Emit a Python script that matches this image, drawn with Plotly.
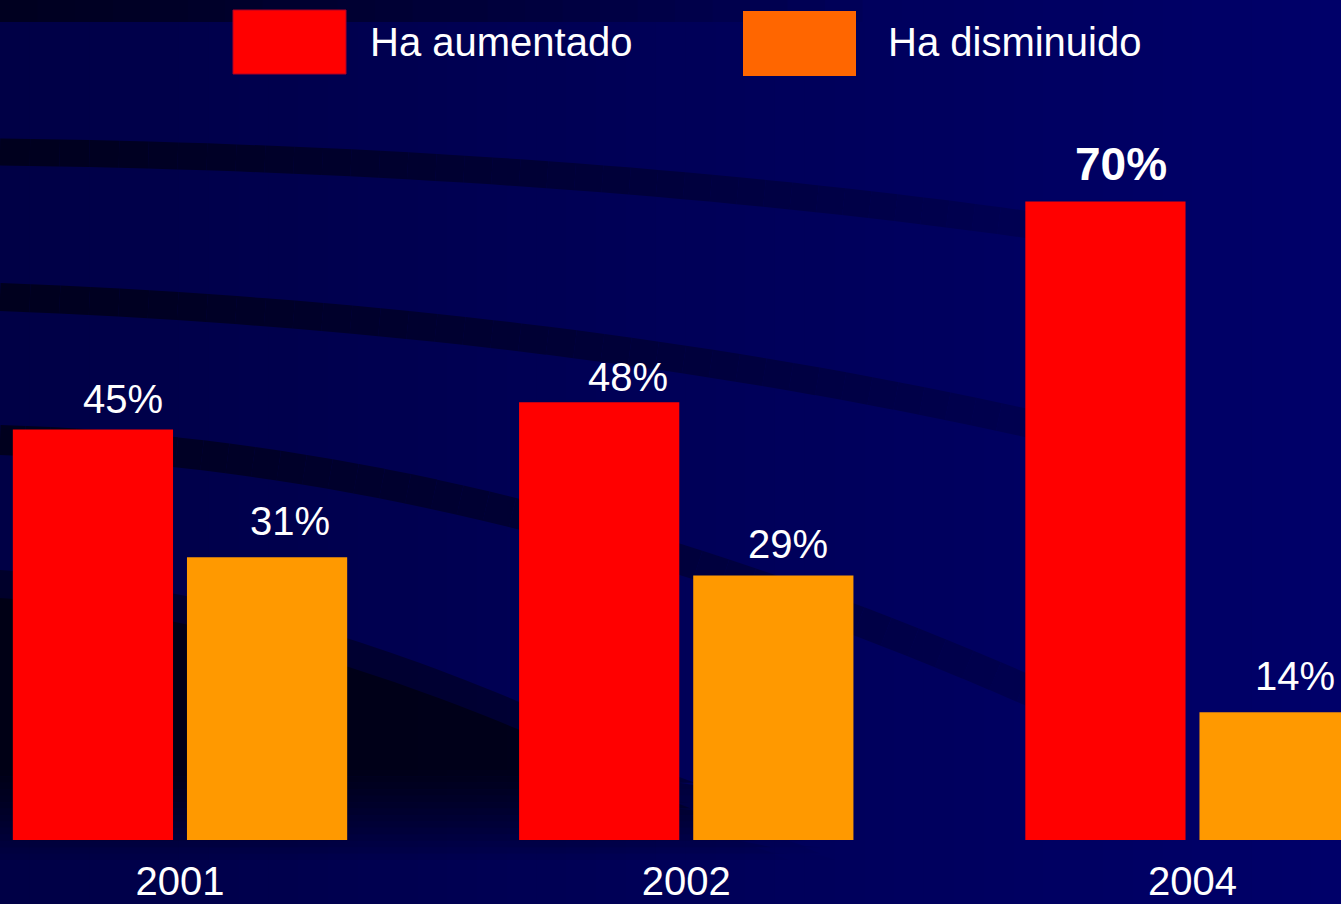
import plotly.graph_objects as go

# ---- data -------------------------------------------------------------
years = ["2001", "2002", "2004"]
aumentado = [45, 48, 70]
disminuido = [31, 29, 14]
series_names = ["Ha aumentado", "Ha disminuido"]

# ---- page geometry ----------------------------------------------------
W, H = 1341, 904
MB = 64                 # bottom margin holding the year labels
PH = H - MB             # plot-area height
PX_PER_PCT = 9.12       # vertical scale of the bars
X0_PX, UNIT_PX = 180.0, 506.25   # pixel of first group centre, pixels per group

# pixel nudges of the value labels, per series and per year
LABEL_DX = [[30, 29, 16], [23, 15, 15]]
LABEL_DY = [[7, 1, 10], [12, 8, 12]]

FONT = "Liberation Sans, Arial, sans-serif"
RED = "#FF0000"
ORANGE_BAR = "#FF9900"
ORANGE_KEY = "#FF6600"
BARGAP, BARGROUPGAP = 0.312, 0.08


def px(x):
    return x / W


def py(y):
    return (PH - y) / PH


def bg_blue(x):
    """Blue channel of the slide background gradient at pixel column x."""
    return 70 + 35 * min(max(x, 0), W) / W


def qpoint(p0, p1, p2, t):
    u = 1 - t
    return (u * u * p0[0] + 2 * u * t * p1[0] + t * t * p2[0],
            u * u * p0[1] + 2 * u * t * p1[1] + t * t * p2[1])


shapes = []

# background gradient, dark navy on the left to brighter navy on the right
NSTRIP = 45
for i in range(NSTRIP):
    xa, xb = W * i / NSTRIP, W * (i + 1) / NSTRIP
    b = bg_blue((xa + xb) / 2)
    shapes.append(dict(type="rect", xref="paper", yref="paper",
                       x0=px(xa), x1=px(xb) + 0.001, y0=py(H + 5), y1=py(-5),
                       fillcolor=f"rgb(0,0,{b:.0f})", line_width=0, layer="below"))

# dark strip along the top edge
NTOP = 24
for i in range(NTOP):
    xa, xb = 900 * i / NTOP, 900 * (i + 1) / NTOP
    a = 0.55 * (1 - i / (NTOP - 1)) ** 0.8
    b = bg_blue((xa + xb) / 2) * (1 - a)
    shapes.append(dict(type="rect", xref="paper", yref="paper",
                       x0=px(xa), x1=px(xb) + 0.001, y0=py(22), y1=py(-2),
                       fillcolor=f"rgb(0,0,{b:.0f})", line_width=0, layer="below"))


def arc_band(p0, p1, p2, width, a0, a1, n=40):
    pts = [qpoint(p0, p1, p2, i / n) for i in range(n + 1)]
    for i in range(n):
        (xa, ya), (xb, yb) = pts[i], pts[i + 1]
        a = a0 + (a1 - a0) * i / (n - 1)
        b = bg_blue((xa + xb) / 2) * (1 - a)
        shapes.append(dict(type="line", xref="paper", yref="paper",
                           x0=px(xa), y0=py(ya), x1=px(xb), y1=py(yb),
                           line=dict(color=f"rgb(0,0,{b:.0f})", width=width),
                           layer="below"))


# sweeping arcs of the slide template
arc_band((0, 152), (600, 160), (1100, 235), 27, 0.58, 0.12)
arc_band((0, 297), (600, 320), (1100, 440), 28, 0.58, 0.15)
arc_band((0, 440), (500, 455), (1050, 700), 30, 0.58, 0.18)


def dark_region(p0, p1, p2, alpha, fade_start=770, fade_end=860, nslice=14):
    """Area below a curve, darkened, fading out towards the bottom edge."""
    curve = [qpoint(p0, p1, p2, i / 60) for i in range(61)]
    top = min(p[1] for p in curve)
    edges = [top - 1, fade_start] + [
        fade_start + (fade_end - fade_start) * (k + 1) / nslice for k in range(nslice)]
    for k in range(len(edges) - 1):
        ya, yb = edges[k], edges[k + 1]
        f = 1.0 if k == 0 else 1 - (k - 0.5) / nslice
        pts = [(x, min(max(y, ya), yb)) for x, y in curve]
        xend = max(x for x, y in curve)
        path = "M " + " L ".join(f"{px(x):.5f},{py(y):.5f}" for x, y in pts)
        path += f" L {px(xend):.5f},{py(yb):.5f} L {px(0):.5f},{py(yb):.5f} Z"
        shapes.append(dict(type="path", xref="paper", yref="paper", path=path,
                           fillcolor=f"rgba(0,0,0,{alpha * f:.3f})",
                           line_width=0, layer="below"))


dark_region((0, 570), (420, 600), (900, 904), 0.38)
dark_region((0, 598), (420, 628), (920, 940), 0.5)

# legend keys
shapes.append(dict(type="rect", xref="paper", yref="paper",
                   x0=px(233), x1=px(346), y0=py(74), y1=py(10),
                   fillcolor=RED, line=dict(color="rgb(170,0,40)", width=1)))
shapes.append(dict(type="rect", xref="paper", yref="paper",
                   x0=px(743), x1=px(856), y0=py(76), y1=py(11),
                   fillcolor=ORANGE_KEY, line_width=0))

# ---- bars ---------------------------------------------------------------
xs = list(range(len(years)))
fig = go.Figure()
fig.add_bar(x=xs, y=aumentado, name=series_names[0],
            marker=dict(color=RED, line_width=0))
fig.add_bar(x=xs, y=disminuido, name=series_names[1],
            marker=dict(color=ORANGE_BAR, line_width=0))

# value labels above each bar
annotations = []
half = (1 - BARGAP) / 4
peak = max(aumentado + disminuido)
for s, (sign, vals) in enumerate(((-1, aumentado), (1, disminuido))):
    for xi, v in zip(xs, vals):
        bold = v == peak
        annotations.append(dict(
            x=xi + sign * half, y=v, xref="x", yref="y",
            text=f"<b>{v}%</b>" if bold else f"{v}%",
            showarrow=False, xanchor="center", yanchor="bottom",
            xshift=LABEL_DX[s][xi], yshift=LABEL_DY[s][xi],
            font=dict(family=FONT, size=46 if bold else 40, color="white")))

# legend texts
annotations.append(dict(x=px(368), y=py(42), xref="paper", yref="paper",
                        text=series_names[0], showarrow=False,
                        xanchor="left", yanchor="middle",
                        font=dict(family=FONT, size=40, color="white")))
annotations.append(dict(x=px(886), y=py(42), xref="paper", yref="paper",
                        text=series_names[1], showarrow=False,
                        xanchor="left", yanchor="middle",
                        font=dict(family=FONT, size=40, color="white")))

fig.update_layout(
    width=W, height=H, autosize=False,
    margin=dict(l=0, r=0, t=0, b=MB, pad=0),
    paper_bgcolor="rgb(0,0,80)", plot_bgcolor="rgba(0,0,0,0)",
    barmode="group", bargap=BARGAP, bargroupgap=BARGROUPGAP,
    showlegend=False,
    shapes=shapes, annotations=annotations,
    xaxis=dict(range=[-X0_PX / UNIT_PX, (W - X0_PX) / UNIT_PX],
               tickvals=xs, ticktext=years, showgrid=False, zeroline=False,
               showline=False, ticks="", ticklabelstandoff=14,
               automargin=False,
               tickfont=dict(family=FONT, size=40, color="white")),
    yaxis=dict(range=[0, PH / PX_PER_PCT], visible=False, automargin=False),
    font=dict(family=FONT, color="white"),
)

fig.write_html("out.html", config={"displayModeBar": False})
